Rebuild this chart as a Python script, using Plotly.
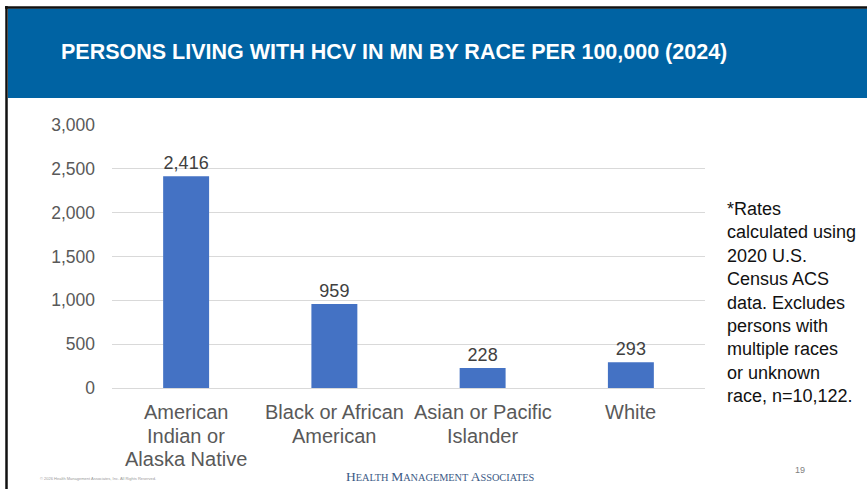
import plotly.graph_objects as go

categories = ["American Indian or Alaska Native", "Black or African American",
              "Asian or Pacific Islander", "White"]
category_label_lines = [["American", "Indian or", "Alaska Native"],
                        ["Black or African", "American"],
                        ["Asian or Pacific", "Islander"],
                        ["White"]]
rates = [2416, 959, 228, 293]
y_ticks = [0, 500, 1000, 1500, 2000, 2500, 3000]
y_tick_labels = ["0", "500", "1,000", "1,500", "2,000", "2,500", "3,000"]

title_text = "PERSONS LIVING WITH HCV IN MN BY RACE PER 100,000 (2024)"
note_text = ("*Rates<br>calculated using<br>2020 U.S.<br>Census ACS<br>data. Excludes<br>"
             "persons with<br>multiple races<br>or unknown<br>race, n=10,122.")

W, H = 867, 489
L, R, T, B = 112, 162, 125, 101
PW, PH = W - L - R, H - T - B

def px(x):
    return (x - L) / PW

def py(y):
    return (H - B - y) / PH

fig = go.Figure()
fig.add_trace(go.Bar(
    x=categories, y=rates,
    marker=dict(color="#4472C4", line=dict(width=0)),
    width=0.31,
    text=[f"{v:,}" for v in rates], textposition="outside",
    textfont=dict(family="Liberation Sans, Arial", size=18, color="#404040"),
    cliponaxis=False,
))

fig.update_layout(
    width=W, height=H,
    margin=dict(l=L, r=R, t=T, b=B, autoexpand=False),
    paper_bgcolor="white", plot_bgcolor="white",
    showlegend=False,
    xaxis=dict(showgrid=False, showline=True, linecolor="#D9D9D9", linewidth=1,
               ticks="", showticklabels=False),
    yaxis=dict(range=[0, 3000], tickvals=y_ticks, ticktext=y_tick_labels,
               showgrid=True, gridcolor="#D9D9D9", gridwidth=1, zeroline=False,
               ticks="", ticklabelstandoff=16,
               tickfont=dict(family="Liberation Sans, Arial", size=17.5, color="#595959")),
    font=dict(family="Liberation Sans, Arial"),
)

shapes = [
    dict(type="rect", xref="paper", yref="paper", x0=px(8), x1=px(870), y0=py(98), y1=py(8.5),
         fillcolor="#0063A3", line=dict(width=0), layer="below"),
    dict(type="line", xref="paper", yref="paper", x0=px(6.5), x1=px(6.5), y0=py(6), y1=py(492),
         line=dict(color="#111111", width=2.5)),
    dict(type="line", xref="paper", yref="paper", x0=px(5), x1=px(870), y0=py(7.5), y1=py(7.5),
         line=dict(color="#111111", width=2.5)),
]
fig.update_layout(shapes=shapes)

# category labels (one annotation per line for tighter line spacing)
for cat, lines in zip(categories, category_label_lines):
    for i, line in enumerate(lines):
        fig.add_annotation(text=line, xref="x", yref="paper", x=cat, y=py(412 + 23.5 * i),
                           xanchor="center", yanchor="middle", showarrow=False,
                           font=dict(family="Liberation Sans, Arial", size=20, color="#595959"))

fig.add_annotation(text=title_text, xref="paper", yref="paper", x=px(59), y=py(52),
                   xanchor="left", yanchor="middle", showarrow=False,
                   font=dict(family="Liberation Sans, Arial", size=21.5, color="white", weight="bold"))
fig.add_annotation(text=note_text, xref="paper", yref="paper", x=px(725), y=py(302.5),
                   xanchor="left", yanchor="middle", align="left", showarrow=False,
                   font=dict(family="Liberation Sans, Arial", size=18, color="#111111"))

footer = ("<span style='font-size:13.5px'>H</span>EALTH "
          "<span style='font-size:13.5px'>M</span>ANAGEMENT "
          "<span style='font-size:13.5px'>A</span>SSOCIATES")
fig.add_annotation(text=footer, xref="paper", yref="paper", x=px(440), y=py(476),
                   xanchor="center", yanchor="middle", showarrow=False,
                   font=dict(family="Liberation Serif, Times New Roman", size=10.3, color="#3B5A85"))
fig.add_annotation(text="© 2026 Health Management Associates, Inc. All Rights Reserved.",
                   xref="paper", yref="paper", x=px(38), y=py(478),
                   xanchor="left", yanchor="middle", showarrow=False,
                   font=dict(family="Liberation Sans, Arial", size=4, color="#9A9A9A"))
fig.add_annotation(text="19", xref="paper", yref="paper", x=px(800), y=py(470),
                   xanchor="center", yanchor="middle", showarrow=False,
                   font=dict(family="Liberation Sans, Arial", size=9, color="#7F7F7F"))

fig.write_html("out.html", config={"displayModeBar": False},
               post_script="document.body.style.margin='0px';")
